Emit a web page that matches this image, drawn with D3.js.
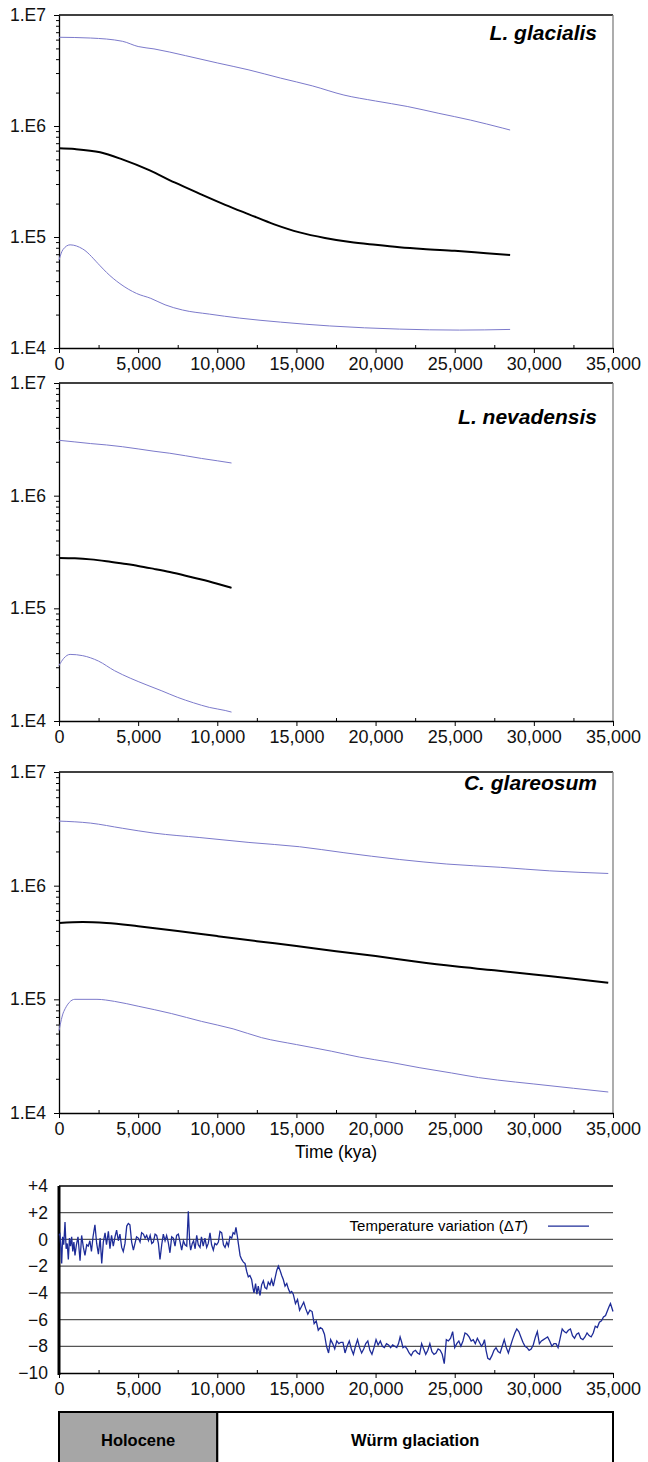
<!DOCTYPE html>
<html>
<head>
<meta charset="utf-8">
<script src="https://cdn.jsdelivr.net/npm/d3@7"></script>
<style>
	body { margin: 0; background: #fff; }
	svg { display: block; font-family: "Liberation Sans", Arial, sans-serif; }
	.tick text { fill: #111; }
</style>
</head>
<body>
<div id="chart"></div>
<script>
// [year, effective population size]
var glacialisUpper = [[0, 6.3e6], [2000, 6.2e6], [4000, 5.8e6], [5000, 5.2e6], [6000, 4.95e6], [8000, 4.3e6], [10000, 3.7e6], [12000, 3.2e6], [14000, 2.7e6], [16000, 2.3e6], [18000, 1.9e6], [20000, 1.68e6], [22000, 1.5e6], [24000, 1.3e6], [26000, 1.13e6], [28000, 9.6e5], [28500, 9.2e5]];
var glacialisMean = [[0, 6.3e5], [1000, 6.2e5], [2600, 5.8e5], [4000, 5.0e5], [5700, 4.0e5], [7300, 3.1e5], [8900, 2.45e5], [10500, 1.95e5], [12000, 1.6e5], [13600, 1.3e5], [15200, 1.1e5], [16800, 9.8e4], [18400, 9.0e4], [20000, 8.5e4], [21500, 8.1e4], [23000, 7.8e4], [25000, 7.5e4], [27000, 7.15e4], [28500, 6.9e4]];
var glacialisLower = [[0, 6.2e4], [250, 7.7e4], [700, 8.5e4], [1500, 7.8e4], [2600, 5.5e4], [3000, 4.8e4], [3850, 3.8e4], [4900, 3.1e4], [5800, 2.8e4], [6700, 2.45e4], [7800, 2.2e4], [9500, 2.02e4], [11400, 1.86e4], [14000, 1.71e4], [17100, 1.58e4], [21500, 1.48e4], [25300, 1.45e4], [28500, 1.47e4]];

var nevadensisUpper = [[0, 3.1e6], [1000, 3.0e6], [2000, 2.9e6], [3000, 2.82e6], [4000, 2.72e6], [5000, 2.6e6], [6000, 2.48e6], [7000, 2.38e6], [8000, 2.26e6], [9000, 2.14e6], [10000, 2.04e6], [10900, 1.95e6]];
var nevadensisMean = [[0, 2.8e5], [1000, 2.78e5], [2000, 2.72e5], [3000, 2.62e5], [4000, 2.5e5], [5000, 2.38e5], [6000, 2.24e5], [7000, 2.1e5], [8000, 1.95e5], [9000, 1.8e5], [10000, 1.65e5], [10900, 1.52e5]];
var nevadensisLower = [[0, 3.1e4], [300, 3.6e4], [700, 3.9e4], [1500, 3.8e4], [2500, 3.4e4], [3500, 2.8e4], [4500, 2.4e4], [5500, 2.1e4], [6500, 1.85e4], [7500, 1.62e4], [8500, 1.45e4], [9500, 1.32e4], [10500, 1.24e4], [10900, 1.2e4]];

var glareosumUpper = [[0, 3.7e6], [2000, 3.55e6], [4000, 3.2e6], [6000, 2.9e6], [8900, 2.65e6], [12000, 2.4e6], [15200, 2.2e6], [18000, 1.95e6], [21500, 1.7e6], [24500, 1.55e6], [27900, 1.45e6], [31000, 1.35e6], [34700, 1.28e6]];
var glareosumMean = [[0, 4.7e5], [1500, 4.8e5], [3000, 4.7e5], [5000, 4.4e5], [7500, 4.0e5], [10000, 3.6e5], [12500, 3.25e5], [15000, 2.95e5], [17500, 2.65e5], [20000, 2.4e5], [22500, 2.15e5], [25000, 1.95e5], [27500, 1.8e5], [30000, 1.65e5], [32500, 1.52e5], [34700, 1.4e5]];
var glareosumLower = [[0, 5.3e4], [300, 7.8e4], [1000, 1.0e5], [2400, 1.0e5], [3500, 9.6e4], [5000, 8.7e4], [7100, 7.5e4], [9000, 6.4e4], [11000, 5.5e4], [12800, 4.6e4], [15000, 4.0e4], [17200, 3.5e4], [19000, 3.1e4], [20900, 2.8e4], [22800, 2.5e4], [24800, 2.25e4], [26500, 2.05e4], [27700, 1.95e4], [30000, 1.8e4], [32500, 1.65e4], [34700, 1.53e4]];

// [year, temperature variation]
var temperature = [[0, 0.3], [60, 0.4], [120, -0.6], [170, -1.8], [230, 0.2], [300, -0.4], [380, 1.3], [450, -0.7], [520, -0.3], [590, -1.5], [660, 0.1], [730, -0.5], [800, 0.2], [870, -0.9], [940, -0.2], [1010, -1.2], [1100, -0.4], [1200, 0.2], [1330, -1.6], [1430, 0.3], [1540, -0.6], [1640, -1.2], [1750, -0.4], [1850, -0.5], [1950, -0.1], [2050, -0.9], [2150, 0.2], [2270, 1.1], [2380, -0.3], [2490, -1.1], [2600, 0.1], [2700, -1.8], [2800, -0.2], [2910, 0.5], [3000, -0.4], [3120, 0.6], [3220, -0.7], [3320, 0.3], [3430, -0.5], [3540, 0.2], [3640, 0.7], [3750, -0.1], [3850, 0.4], [3960, -0.6], [4060, -0.9], [4170, -0.3], [4280, 1.0], [4380, 1.2], [4480, 1.1], [4590, -0.2], [4700, -0.8], [4800, -0.3], [4900, 0.2], [5010, 0.1], [5120, -0.2], [5220, 0.5], [5330, 0.4], [5440, 0.1], [5540, 0.3], [5650, -0.1], [5760, 0.3], [5860, -0.3], [5960, -0.2], [6070, 0.4], [6170, 0.3], [6280, -0.3], [6380, -1.5], [6490, -0.4], [6590, 0.4], [6700, -0.1], [6800, 0.3], [6900, -0.2], [7010, -1.0], [7120, 0.2], [7220, 0.1], [7330, -0.5], [7430, 0.3], [7540, 0.4], [7650, -0.2], [7750, -0.8], [7860, -0.1], [7960, -0.4], [8070, -0.5], [8170, 2.1], [8260, -0.3], [8320, -0.8], [8420, -0.3], [8500, -0.1], [8600, -0.7], [8700, 0.3], [8800, -0.4], [8910, -0.6], [9000, 0.2], [9110, -0.5], [9220, 0.1], [9330, -0.6], [9430, -0.3], [9540, 0.5], [9640, -0.4], [9750, -0.8], [9850, -0.3], [9960, -0.4], [10070, -0.2], [10170, 0.6], [10280, 0.5], [10390, -0.4], [10490, -0.6], [10600, -0.2], [10700, -0.5], [10800, 0.2], [10910, 0.1], [11000, 0.5], [11100, 0.4], [11180, 0.9], [11260, 0.3], [11330, -0.3], [11440, -1.2], [11540, -1.5], [11650, -1.7], [11750, -1.8], [11860, -2.4], [11960, -2.8], [12060, -2.7], [12170, -3.0], [12250, -3.6], [12320, -4.0], [12420, -3.3], [12500, -4.1], [12590, -3.5], [12700, -4.2], [12800, -3.4], [12910, -3.1], [13010, -3.6], [13120, -3.7], [13220, -3.2], [13330, -3.4], [13430, -3.0], [13540, -3.5], [13650, -2.9], [13760, -2.3], [13860, -2.0], [13960, -2.3], [14070, -2.7], [14170, -3.0], [14280, -3.5], [14390, -3.3], [14490, -3.7], [14600, -4.0], [14700, -3.9], [14800, -4.1], [14940, -4.8], [15070, -4.5], [15200, -5.3], [15330, -5.0], [15460, -4.7], [15590, -5.2], [15720, -5.6], [15850, -5.3], [15990, -5.4], [16120, -6.3], [16250, -6.1], [16380, -6.8], [16510, -6.6], [16640, -6.7], [16770, -7.1], [16900, -8.0], [17030, -8.5], [17160, -7.5], [17290, -7.8], [17420, -8.2], [17550, -7.6], [17680, -7.8], [17810, -7.7], [17940, -7.7], [18070, -8.5], [18200, -8.0], [18340, -7.6], [18470, -8.2], [18600, -8.6], [18730, -8.0], [18860, -7.5], [18990, -8.1], [19120, -8.5], [19250, -8.2], [19380, -7.8], [19510, -7.6], [19640, -8.3], [19770, -8.6], [19900, -8.1], [20030, -7.5], [20160, -7.9], [20300, -7.6], [20430, -8.0], [20560, -8.1], [20690, -7.8], [20820, -7.9], [20950, -8.1], [21080, -7.9], [21210, -8.0], [21340, -8.1], [21450, -7.8], [21550, -7.3], [21650, -7.7], [21730, -8.1], [21860, -8.0], [21990, -8.2], [22120, -8.5], [22250, -8.7], [22380, -8.4], [22520, -8.3], [22650, -8.5], [22780, -8.6], [22910, -7.8], [23040, -8.2], [23170, -8.6], [23300, -8.3], [23430, -7.8], [23560, -8.4], [23690, -8.6], [23820, -8.5], [23950, -8.2], [24080, -8.3], [24210, -8.6], [24340, -9.3], [24470, -7.5], [24600, -7.6], [24740, -7.4], [24870, -6.9], [25000, -8.1], [25130, -7.8], [25260, -7.6], [25390, -8.0], [25520, -7.6], [25650, -7.0], [25780, -7.1], [25910, -7.3], [26040, -7.6], [26170, -7.5], [26300, -7.8], [26430, -7.4], [26560, -7.7], [26690, -8.0], [26800, -7.8], [26880, -7.5], [26980, -8.3], [27090, -8.9], [27220, -9.0], [27350, -8.7], [27480, -8.3], [27610, -8.1], [27740, -8.4], [27870, -8.5], [28000, -8.0], [28130, -7.5], [28260, -8.1], [28390, -8.5], [28520, -8.0], [28650, -7.5], [28800, -7.0], [28920, -6.7], [29050, -6.9], [29180, -7.3], [29310, -7.7], [29440, -8.0], [29570, -8.1], [29700, -8.3], [29830, -8.2], [29960, -7.9], [30100, -7.3], [30220, -6.9], [30350, -7.8], [30480, -7.6], [30610, -7.5], [30740, -7.4], [30870, -7.3], [31000, -7.6], [31140, -8.0], [31270, -7.8], [31400, -7.8], [31530, -8.1], [31660, -7.4], [31790, -6.7], [31920, -6.9], [32050, -7.0], [32180, -6.8], [32310, -6.7], [32440, -7.2], [32570, -7.4], [32700, -7.1], [32830, -7.0], [32960, -7.4], [33100, -7.5], [33230, -7.3], [33360, -7.0], [33490, -7.2], [33620, -7.3], [33750, -7.0], [33880, -6.5], [34010, -6.6], [34140, -6.2], [34270, -6.1], [34400, -5.8], [34530, -5.7], [34660, -5.3], [34760, -5.0], [34840, -4.8], [34920, -5.1], [35000, -5.4]];

var yearTicks = [0, 5000, 10000, 15000, 20000, 25000, 30000, 35000];
var yearMinorTicks = [2500, 7500, 12500, 17500, 22500, 27500, 32500];
var sizeTicks = [1e4, 1e5, 1e6, 1e7];
var tempTicks = [-10, -8, -6, -4, -2, 0, 2, 4];
var periods = [{name: "Holocene", from: 0, to: 10000}, {name: "Würm glaciation", from: 10000, to: 35000}];

var width = 648,
	height = 1462,
	plotLeft = 59,
	plotRight = 613,
	lightBlue = "#7c7acb",
	navy = "#1e2c98";

var panels = [
	{title: "L. glacialis", top: 15, bottom: 348, titleY: 40, lines: [glacialisUpper, glacialisMean, glacialisLower]},
	{title: "L. nevadensis", top: 383, bottom: 721, titleY: 424, lines: [nevadensisUpper, nevadensisMean, nevadensisLower]},
	{title: "C. glareosum", top: 772, bottom: 1113, titleY: 790, lines: [glareosumUpper, glareosumMean, glareosumLower]}
];

var svg = d3.select("#chart").append("svg")
	.attr("width", width)
	.attr("height", height);

svg.append("rect").attr("width", width).attr("height", height).style("fill", "#fff");

var x = d3.scaleLinear().domain([0, 35000]).range([plotLeft, plotRight]);

panels.forEach(drawPanel);
drawTemperature();

function minorLogTicks() {
	var t = [];
	for (var e = 4; e < 7; e++)
		for (var m = 2; m < 10; m++)
			t.push(m * Math.pow(10, e));
	return t;
}

function drawBottomAxis(g, yPos) {
	g.append("g")
		.attr("class", "x-axis")
		.attr("transform", "translate(0," + yPos + ")")
		.call(d3.axisBottom(x).tickValues(yearTicks).tickSize(5).tickSizeOuter(0).tickPadding(4).tickFormat(d3.format(",")))
		.call(function(a) {
			a.select(".domain").style("stroke", "#000").style("stroke-width", 1.3);
			a.selectAll("text").style("font-size", "18px");
		});
	g.append("g")
		.attr("transform", "translate(0," + yPos + ")")
		.call(d3.axisTop(x).tickValues(yearMinorTicks).tickSize(3).tickFormat(""))
		.call(function(a) { a.select(".domain").remove(); });
}

function drawPanel(p) {
	var y = d3.scaleLog().domain([1e4, 1e7]).range([p.bottom, p.top]);
	var g = svg.append("g").attr("class", "panel");

	// frame: black top, grey right
	g.append("line")
		.attr("x1", plotLeft).attr("x2", plotRight)
		.attr("y1", p.top).attr("y2", p.top)
		.style("stroke", "#000").style("stroke-width", 1.3);
	g.append("line")
		.attr("x1", plotRight).attr("x2", plotRight)
		.attr("y1", p.top).attr("y2", p.bottom)
		.style("stroke", "#808080").style("stroke-width", 1.3);

	g.append("g")
		.attr("transform", "translate(" + plotLeft + ",0)")
		.call(d3.axisLeft(y).tickValues(sizeTicks).tickSize(5).tickSizeOuter(0).tickPadding(8)
			.tickFormat(function(d) { return "1.E" + Math.round(Math.log10(d)); }))
		.call(function(a) {
			a.select(".domain").style("stroke-width", 1.3);
			a.selectAll("text").style("font-size", "17.5px");
		});
	g.append("g")
		.attr("transform", "translate(" + plotLeft + ",0)")
		.call(d3.axisLeft(y).tickValues(minorLogTicks()).tickSize(3).tickFormat(""))
		.call(function(a) { a.select(".domain").remove(); });

	drawBottomAxis(g, p.bottom);

	var line = d3.line()
		.x(function(d) { return x(d[0]); })
		.y(function(d) { return y(d[1]); })
		.curve(d3.curveMonotoneX);

	g.selectAll(".series")
		.data(p.lines)
		.enter().append("path")
		.attr("class", "series")
		.attr("d", line)
		.style("fill", "none")
		.style("stroke", function(d, i) { return i == 1 ? "#000" : lightBlue; })
		.style("stroke-width", function(d, i) { return i == 1 ? 2 : 1; });

	g.append("text")
		.attr("x", 597)
		.attr("y", p.titleY)
		.attr("text-anchor", "end")
		.style("font-size", "21px")
		.style("font-weight", "bold")
		.style("font-style", "italic")
		.text(p.title);
}

function drawTemperature() {
	var y = d3.scaleLinear().domain([-10, 4]).range([1373, 1186]);
	var g = svg.append("g").attr("class", "temperature");

	svg.append("text")
		.attr("x", (plotLeft + plotRight) / 2)
		.attr("y", 1158)
		.attr("text-anchor", "middle")
		.style("font-size", "17.5px")
		.text("Time (kya)");

	g.selectAll(".grid")
		.data(tempTicks.filter(function(d) { return d > -10; }))
		.enter().append("line")
		.attr("class", "grid")
		.attr("x1", plotLeft).attr("x2", plotRight)
		.attr("y1", y).attr("y2", y)
		.style("stroke", function(d) { return d == 4 ? "#000" : "#555"; })
		.style("stroke-width", 1.3);

	g.append("g")
		.attr("transform", "translate(" + plotLeft + ",0)")
		.call(d3.axisLeft(y).tickValues(tempTicks).tickSize(0).tickPadding(11)
			.tickFormat(function(d) { return d > 0 ? "+" + d : d < 0 ? "\u2212" + (-d) : "0"; }))
		.call(function(a) {
			a.select(".domain").remove();
			a.selectAll("text").style("font-size", "17.5px");
		});

	drawBottomAxis(g, y(-10));

	g.append("line")
		.attr("x1", plotLeft).attr("x2", plotLeft)
		.attr("y1", y(4)).attr("y2", y(-10) + 2)
		.style("stroke", "#000").style("stroke-width", 3);

	var line = d3.line()
		.x(function(d) { return x(d[0]); })
		.y(function(d) { return y(d[1]); });

	g.append("path")
		.datum(temperature)
		.attr("d", line)
		.style("fill", "none")
		.style("stroke", navy)
		.style("stroke-width", 1.3);

	// legend
	var legend = g.append("g").attr("transform", "translate(0," + y(1) + ")");
	var lt = legend.append("text")
		.attr("x", 528)
		.attr("dy", "0.35em")
		.attr("text-anchor", "end")
		.style("font-size", "15px");
	lt.append("tspan").text("Temperature variation (\u0394");
	lt.append("tspan").style("font-style", "italic").text("T");
	lt.append("tspan").text(")");
	legend.append("line")
		.attr("x1", 548).attr("x2", 589)
		.style("stroke", navy).style("stroke-width", 1.2);

	// period boxes
	var boxes = svg.selectAll(".period")
		.data(periods)
		.enter().append("g")
		.attr("class", "period");
	boxes.append("rect")
		.attr("x", function(d) { return x(d.from); })
		.attr("y", 1412)
		.attr("width", function(d) { return x(d.to) - x(d.from); })
		.attr("height", 70)
		.style("fill", function(d, i) { return i == 0 ? "#a6a6a6" : "#fff"; })
		.style("stroke", "#000")
		.style("stroke-width", 2);
	boxes.append("text")
		.attr("x", function(d) { return (x(d.from) + x(d.to)) / 2; })
		.attr("y", 1440)
		.attr("dy", "0.35em")
		.attr("text-anchor", "middle")
		.style("font-size", "16.5px")
		.style("font-weight", "bold")
		.text(function(d) { return d.name; });
}
</script>
</body>
</html>
